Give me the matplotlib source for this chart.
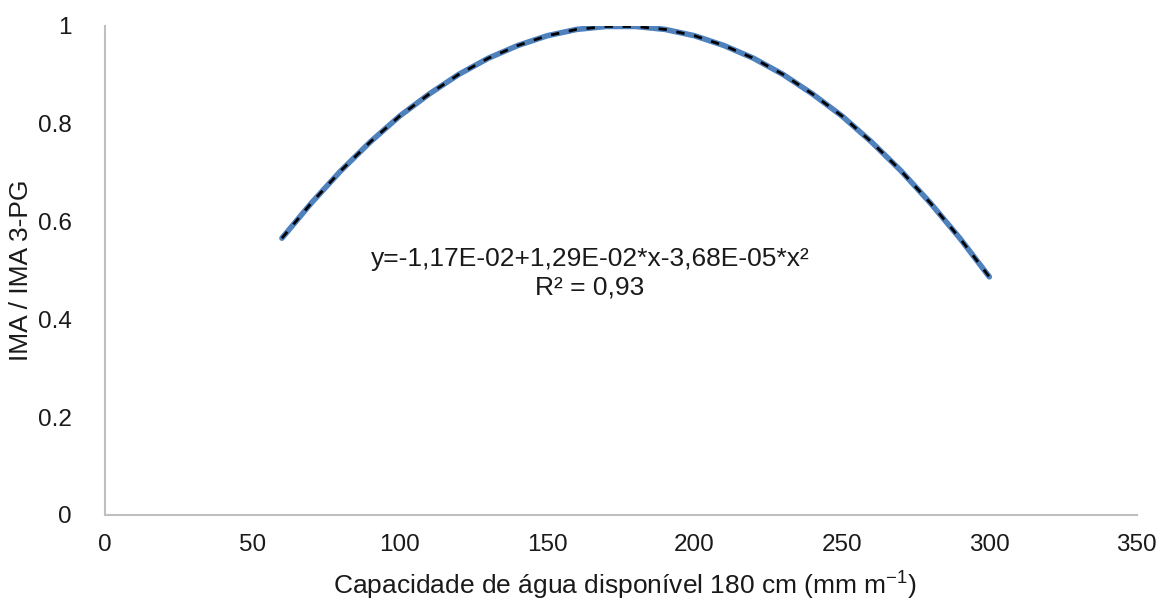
import matplotlib
matplotlib.use("Agg")
from matplotlib import pyplot as plt

plt.rcParams['font.family'] = ['Liberation Sans', 'DejaVu Sans']
plt.rcParams['mathtext.fontset'] = 'custom'
plt.rcParams['mathtext.rm'] = 'Liberation Sans'

# values (capacidade de agua disponivel vs IMA / IMA 3-PG)
cad = [60, 70, 80, 90, 100, 110, 120, 130, 140, 150, 160, 170, 180,
       190, 200, 210, 220, 230, 240, 250, 260, 270, 280, 290, 300]
ima_ratio = [0.566, 0.638, 0.704, 0.763, 0.816, 0.861, 0.901, 0.934, 0.960,
             0.980, 0.993, 0.999, 0.999, 0.993, 0.980, 0.960, 0.934, 0.901,
             0.861, 0.816, 0.763, 0.704, 0.638, 0.566, 0.487]

x_ticks = [0, 50, 100, 150, 200, 250, 300, 350]
y_ticks = [0, 0.2, 0.4, 0.6, 0.8, 1]
y_tick_labels = ['0', '0.2', '0.4', '0.6', '0.8', '1']

equation = "y=-1,17E-02+1,29E-02*x-3,68E-05*x²\nR² = 0,93"

fig = plt.figure(figsize=(11.71, 6), dpi=100)
ax = fig.add_axes([0.0897, 0.1417, 0.881, 0.815])

ax.plot(cad, ima_ratio, color='#4F81BD', lw=4, solid_capstyle='round', zorder=2)
ax.plot(cad, ima_ratio, color='black', lw=2, dashes=(3, 3.5), zorder=3)

ax.set_xlim(0, 350)
ax.set_ylim(0, 1)
ax.set_xticks(x_ticks)
ax.set_yticks(y_ticks)
ax.set_yticklabels(y_tick_labels)
ax.tick_params(length=0, labelsize=17.5, colors='#1a1a1a')
ax.tick_params(axis='x', pad=14)
ax.tick_params(axis='y', pad=24)

for side in ['top', 'right']:
    ax.spines[side].set_visible(False)
for side in ['left', 'bottom']:
    ax.spines[side].set_color('#BFBFBF')
    ax.spines[side].set_linewidth(1.5)

ax.text(164.5, 0.495, equation, ha='center', va='center', fontsize=19,
        color='#1a1a1a', linespacing=1.25)

ax.set_xlabel('Capacidade de água disponível 180 cm (mm m$^{-1}$)', fontsize=19,
              color='#1a1a1a')
ax.set_ylabel('IMA / IMA 3-PG', fontsize=19, color='#1a1a1a')
ax.xaxis.set_label_coords(0.504, -0.108)
ax.yaxis.set_label_coords(-0.0698, 0.50)

plt.savefig("out.png", dpi=100)
